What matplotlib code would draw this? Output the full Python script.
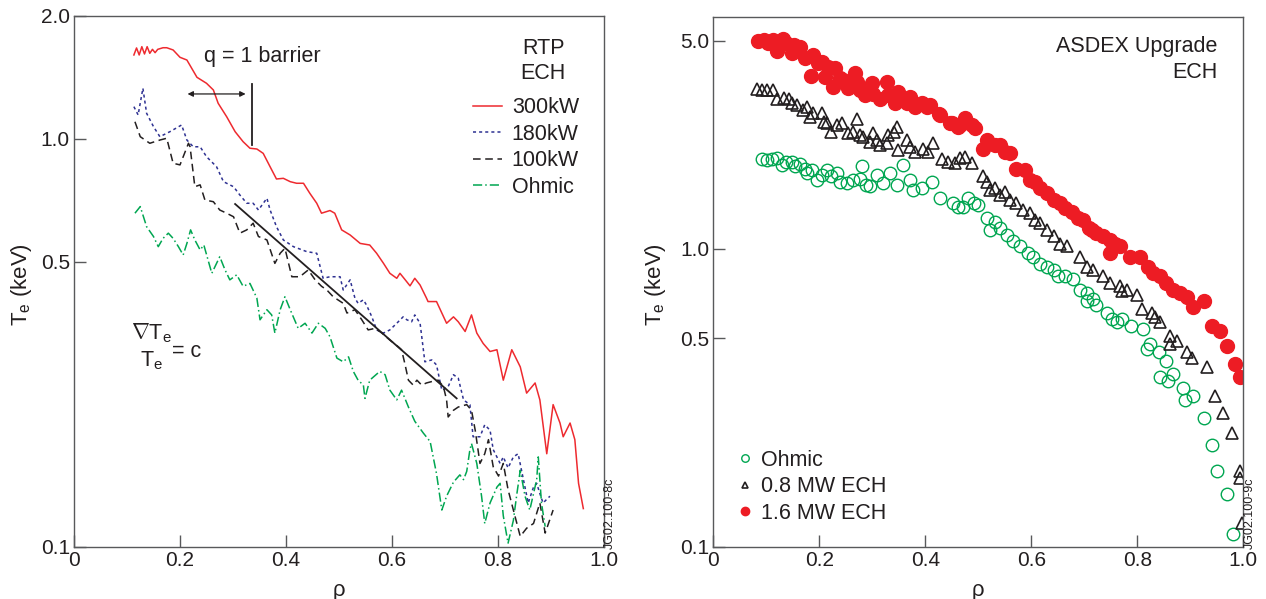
import matplotlib
matplotlib.use("Agg")
import matplotlib.pyplot as plt
import matplotlib.ticker as plticker

plt.rcParams['font.family'] = ['Liberation Sans', 'DejaVu Sans']
plt.rcParams['mathtext.fontset'] = 'custom'
plt.rcParams['mathtext.rm'] = 'Liberation Sans'
plt.rcParams['mathtext.it'] = 'Liberation Sans:italic'

# ---- left panel: RTP ECH profiles (lines) ----
rho_300 = [0.113,0.118,0.123,0.128,0.133,0.138,0.143,0.148,0.153,0.158,0.168,0.175,0.187,0.200,0.213,0.232,0.250,0.263,0.272,0.288,
           0.304,0.319,0.332,0.345,0.357,0.370,0.382,0.395,0.408,0.420,0.433,0.445,0.458,0.467,0.483,0.492,0.505,0.521,0.540,0.558,
           0.571,0.584,0.596,0.609,0.615,0.625,0.634,0.643,0.653,0.665,0.668,0.684,0.703,0.716,0.725,0.738,0.750,0.760,0.772,0.785,
           0.798,0.810,0.826,0.842,0.854,0.870,0.879,0.892,0.904,0.917,0.923,0.936,0.945,0.952,0.961]
te_300 = [1.605,1.670,1.605,1.682,1.614,1.682,1.620,1.657,1.626,1.657,1.672,1.672,1.651,1.584,1.560,1.415,1.368,1.317,1.222,1.133,
          1.041,0.984,0.948,0.944,0.921,0.854,0.797,0.800,0.785,0.778,0.778,0.735,0.695,0.657,0.667,0.657,0.598,0.581,0.554,0.549,
          0.524,0.495,0.468,0.455,0.468,0.451,0.436,0.455,0.438,0.407,0.399,0.399,0.353,0.366,0.356,0.337,0.370,0.334,0.315,0.301,
          0.304,0.256,0.304,0.276,0.238,0.252,0.229,0.169,0.223,0.201,0.186,0.201,0.183,0.143,0.124]

rho_180 = [0.113,0.121,0.130,0.137,0.150,0.162,0.181,0.203,0.213,0.225,0.238,0.250,0.269,0.282,0.301,0.313,0.326,0.338,0.348,0.364,
           0.370,0.382,0.395,0.414,0.439,0.458,0.470,0.483,0.502,0.508,0.521,0.530,0.536,0.546,0.552,0.562,0.571,0.584,0.596,0.609,
           0.621,0.628,0.637,0.643,0.653,0.662,0.675,0.684,0.694,0.706,0.716,0.725,0.735,0.747,0.753,0.766,0.775,0.785,0.791,0.804,
           0.810,0.819,0.829,0.838,0.848,0.857,0.867,0.873,0.879,0.885,0.898]
te_180 = [1.199,1.144,1.330,1.155,1.071,1.012,1.041,1.081,0.993,0.956,0.956,0.904,0.854,0.785,0.763,0.728,0.695,0.695,0.669,0.715,
          0.669,0.609,0.565,0.544,0.529,0.524,0.455,0.459,0.459,0.426,0.451,0.407,0.395,0.403,0.391,0.366,0.340,0.334,0.340,0.353,
          0.366,0.360,0.356,0.370,0.353,0.284,0.287,0.279,0.242,0.247,0.264,0.259,0.229,0.223,0.186,0.186,0.199,0.193,0.173,0.160,
          0.166,0.156,0.166,0.169,0.146,0.128,0.140,0.143,0.135,0.128,0.133]

rho_100 = [0.115,0.125,0.143,0.162,0.175,0.187,0.200,0.216,0.219,0.228,0.238,0.247,0.263,0.275,0.288,0.301,0.313,0.326,0.338,0.348,
           0.364,0.379,0.389,0.398,0.411,0.426,0.442,0.455,0.467,0.477,0.489,0.508,0.515,0.530,0.543,0.555,0.568,0.581,0.596,0.612,
           0.618,0.624,0.631,0.640,0.647,0.656,0.665,0.675,0.687,0.697,0.703,0.706,0.716,0.725,0.741,0.750,0.757,0.766,0.775,0.782,
           0.791,0.801,0.810,0.819,0.829,0.842,0.854,0.867,0.879,0.889,0.904]
te_100 = [1.101,1.012,0.975,0.993,1.003,0.871,0.863,0.975,0.956,0.763,0.771,0.708,0.701,0.669,0.657,0.644,0.587,0.598,0.621,0.576,
          0.565,0.495,0.524,0.539,0.459,0.459,0.477,0.451,0.435,0.426,0.410,0.395,0.374,0.381,0.360,0.340,0.343,0.334,0.321,0.309,
          0.304,0.282,0.256,0.249,0.256,0.249,0.252,0.254,0.256,0.247,0.229,0.208,0.216,0.220,0.223,0.216,0.193,0.160,0.169,0.183,
          0.157,0.149,0.160,0.138,0.123,0.106,0.111,0.114,0.128,0.108,0.123]

rho_oh = [0.115,0.125,0.137,0.150,0.159,0.168,0.178,0.187,0.197,0.206,0.213,0.220,0.228,0.238,0.245,0.260,0.275,0.285,0.294,0.307,
          0.319,0.332,0.345,0.351,0.364,0.373,0.379,0.389,0.398,0.408,0.423,0.436,0.449,0.461,0.474,0.483,0.496,0.508,0.518,0.527,
          0.536,0.546,0.549,0.558,0.577,0.587,0.596,0.609,0.618,0.631,0.643,0.659,0.672,0.684,0.694,0.703,0.716,0.728,0.735,0.741,
          0.747,0.750,0.760,0.769,0.775,0.785,0.798,0.804,0.810,0.819,0.829,0.835,0.842,0.851,0.860,0.873,0.876,0.882,0.889]
te_oh = [0.657,0.682,0.609,0.576,0.544,0.570,0.587,0.570,0.544,0.519,0.554,0.598,0.565,0.534,0.549,0.468,0.514,0.477,0.451,0.464,
         0.435,0.442,0.407,0.360,0.381,0.370,0.334,0.381,0.410,0.381,0.343,0.353,0.334,0.353,0.343,0.327,0.290,0.284,0.292,0.269,
         0.256,0.249,0.231,0.256,0.269,0.264,0.242,0.229,0.242,0.220,0.203,0.190,0.181,0.151,0.123,0.133,0.144,0.150,0.146,0.153,
         0.173,0.179,0.160,0.133,0.114,0.128,0.140,0.143,0.119,0.102,0.116,0.133,0.154,0.133,0.123,0.146,0.166,0.128,0.112]

fit_rho = [0.304, 0.722]
fit_te = [0.692, 0.231]
barrier_rho = 0.335

# ---- right panel: ASDEX Upgrade ECH profiles (points) ----
rho_16 = [0.085,0.096,0.104,0.113,0.121,0.131,0.138,0.148,0.152,0.164,0.173,0.189,0.184,0.198,0.206,0.211,0.217,0.230,0.226,0.239,
          0.245,0.255,0.258,0.267,0.271,0.277,0.286,0.299,0.302,0.315,0.327,0.330,0.343,0.349,0.358,0.365,0.371,0.381,0.393,0.403,
          0.409,0.425,0.428,0.447,0.450,0.462,0.465,0.475,0.488,0.494,0.509,0.516,0.532,0.541,0.550,0.560,0.572,0.588,0.598,0.607,
          0.616,0.629,0.642,0.654,0.664,0.676,0.689,0.698,0.708,0.714,0.723,0.736,0.748,0.748,0.758,0.767,0.786,0.805,0.821,0.830,
          0.843,0.855,0.868,0.881,0.893,0.906,0.925,0.940,0.956,0.969,0.984,0.994]
te_16 = [5.00,5.03,4.92,5.03,4.63,5.05,4.92,4.54,4.84,4.77,4.36,4.48,3.81,4.20,4.25,3.78,4.09,4.04,3.49,3.74,
         3.69,3.46,3.60,3.90,3.64,3.41,3.29,3.60,3.31,3.18,3.64,3.29,3.08,3.37,3.16,3.08,3.23,3.00,3.08,3.00,
         3.04,2.84,2.81,2.64,2.64,2.57,2.60,2.74,2.60,2.54,2.17,2.32,2.23,2.23,2.12,2.09,1.86,1.84,1.70,1.68,
         1.60,1.54,1.46,1.42,1.37,1.33,1.27,1.25,1.17,1.16,1.13,1.10,1.07,0.97,1.04,1.02,0.94,0.94,0.87,0.83,
         0.81,0.77,0.73,0.71,0.69,0.64,0.67,0.55,0.53,0.47,0.41,0.37]

rho_08 = [0.082,0.091,0.101,0.112,0.120,0.133,0.143,0.148,0.157,0.170,0.176,0.182,0.189,0.205,0.208,0.214,0.223,0.233,0.242,0.255,
          0.264,0.271,0.277,0.283,0.296,0.302,0.308,0.315,0.327,0.330,0.340,0.346,0.349,0.365,0.371,0.381,0.396,0.406,0.415,0.431,
          0.443,0.456,0.465,0.475,0.488,0.509,0.516,0.522,0.532,0.541,0.550,0.560,0.572,0.585,0.598,0.607,0.616,0.629,0.642,0.654,
          0.667,0.692,0.705,0.717,0.736,0.748,0.767,0.771,0.780,0.799,0.808,0.827,0.833,0.843,0.862,0.862,0.874,0.893,0.903,0.931,
          0.947,0.962,0.978,0.994,0.994,0.997]
te_08 = [3.43,3.41,3.40,3.40,3.18,3.20,3.18,3.08,3.04,2.93,3.00,2.78,2.85,2.85,2.67,2.64,2.47,2.60,2.64,2.44,
         2.47,2.72,2.41,2.38,2.29,2.44,2.32,2.23,2.26,2.41,2.47,2.57,2.15,2.32,2.20,2.12,2.17,2.12,2.26,2.00,
         1.96,1.94,2.01,2.04,1.94,1.75,1.68,1.58,1.60,1.52,1.55,1.46,1.42,1.35,1.32,1.25,1.22,1.16,1.10,1.04,
         1.02,0.94,0.87,0.85,0.81,0.77,0.75,0.72,0.73,0.70,0.63,0.61,0.59,0.57,0.51,0.48,0.49,0.45,0.43,0.40,
         0.32,0.28,0.24,0.18,0.17,0.12]

rho_ohm = [0.091,0.101,0.110,0.120,0.129,0.138,0.148,0.154,0.164,0.173,0.176,0.186,0.195,0.205,0.214,0.223,0.233,0.239,0.252,0.264,
           0.277,0.280,0.289,0.296,0.308,0.321,0.333,0.346,0.358,0.371,0.377,0.393,0.412,0.428,0.453,0.462,0.472,0.481,0.491,0.500,
           0.516,0.522,0.532,0.541,0.554,0.566,0.579,0.594,0.604,0.616,0.629,0.642,0.651,0.664,0.679,0.692,0.705,0.717,0.705,0.723,
           0.742,0.752,0.761,0.771,0.789,0.811,0.818,0.824,0.840,0.855,0.843,0.858,0.868,0.887,0.890,0.906,0.925,0.940,0.950,0.969,
           0.981]
te_ohm = [2.00,1.99,2.00,2.01,1.91,1.96,1.95,1.90,1.93,1.86,1.79,1.84,1.70,1.77,1.84,1.75,1.79,1.68,1.66,1.70,
          1.72,1.89,1.64,1.62,1.77,1.66,1.79,1.64,1.91,1.70,1.58,1.60,1.68,1.48,1.42,1.38,1.38,1.48,1.42,1.40,
          1.27,1.16,1.23,1.17,1.11,1.06,1.02,0.97,0.94,0.89,0.87,0.85,0.81,0.81,0.79,0.73,0.71,0.68,0.67,0.65,
          0.61,0.58,0.57,0.58,0.55,0.54,0.46,0.48,0.45,0.42,0.37,0.36,0.38,0.34,0.31,0.32,0.27,0.22,0.18,0.15,
          0.11]

x_ticks = [0, 0.2, 0.4, 0.6, 0.8, 1.0]
x_labels = ['0', '0.2', '0.4', '0.6', '0.8', '1.0']
left_yticks = [0.1, 0.5, 1.0, 2.0]
right_yticks = [0.1, 0.5, 1.0, 5.0]

RED = '#ee2a2f'
BLUE = '#2e3192'
DARK = '#231f20'
GREEN = '#00a651'
SPINE = '#58595b'
FS = 15.5

fig = plt.figure(figsize=(12.66, 5.99), dpi=100)
ax1 = fig.add_axes([0.05845, 0.08731, 0.41864, 0.88598])
ax2 = fig.add_axes([0.56343, 0.08731, 0.41864, 0.88431])


def style_axis(ax, yticks):
	ax.set_yscale('log')
	ax.set_xlim(0, 1.0)
	ax.set_xticks(x_ticks)
	ax.set_xticklabels(x_labels)
	ax.set_yticks(yticks)
	ax.set_yticklabels(['%.1f' % v for v in yticks])
	ax.yaxis.set_minor_locator(plticker.NullLocator())
	ax.tick_params(direction='in', length=8.5, width=1.0, color=SPINE, labelsize=15,
				   labelcolor=DARK, pad=3)
	for sp in ax.spines.values():
		sp.set_color(SPINE)
		sp.set_linewidth(1.0)
	ax.set_xlabel('ρ', fontsize=16, color=DARK)
	ax.xaxis.set_label_coords(0.5, -0.062)
	ax.set_ylabel('T$_\\mathrm{e}$ (keV)', fontsize=16, color=DARK)


# left panel
style_axis(ax1, left_yticks)
ax1.set_ylim(0.1, 2.0)
ax1.yaxis.set_label_coords(-0.075, 0.495)
l1, = ax1.plot(rho_300, te_300, color=RED, lw=1.1, label='300kW')
l2, = ax1.plot(rho_180, te_180, color=BLUE, lw=1.1, dashes=(2, 2), label='180kW')
l3, = ax1.plot(rho_100, te_100, color=DARK, lw=1.1, dashes=(5, 3), label='100kW')
l4, = ax1.plot(rho_oh, te_oh, color=GREEN, lw=1.1, dashes=(6, 2, 1, 2), label='Ohmic')
ax1.plot(fit_rho, fit_te, color=DARK, lw=1.3)
ax1.plot([barrier_rho, barrier_rho], [0.966, 1.362], color=DARK, lw=1.3)
ax1.annotate('', xy=(0.209, 1.288), xytext=(0.329, 1.288),
			 arrowprops=dict(arrowstyle='<|-|>', color=DARK, lw=0.9, mutation_scale=8))
ax1.text(0.245, 0.923, 'q = 1 barrier', transform=ax1.transAxes, fontsize=FS,
		 color=DARK, va='center', ha='left')
ax1.text(0.885, 0.915, 'RTP\nECH', transform=ax1.transAxes, fontsize=FS,
		 color=DARK, va='center', ha='center', linespacing=1.22)
ax1.legend(handles=[l1, l2, l3, l4], loc='upper left', bbox_to_anchor=(0.753, 0.847),
		   frameon=False, fontsize=FS, handlelength=1.35, handletextpad=0.45,
		   labelspacing=0.26, borderpad=0, borderaxespad=0, labelcolor=DARK)
ax1.text(0.108, 0.403, '$\\nabla$T$_\\mathrm{e}$', transform=ax1.transAxes, fontsize=FS,
		 color=DARK, va='center', ha='left')
ax1.text(0.125, 0.351, 'T$_\\mathrm{e}$', transform=ax1.transAxes, fontsize=FS,
		 color=DARK, va='center', ha='left')
ax1.text(0.185, 0.368, '= c', transform=ax1.transAxes, fontsize=FS,
		 color=DARK, va='center', ha='left')

# right panel
style_axis(ax2, right_yticks)
ax2.set_ylim(0.1, 6.0)
ax2.yaxis.set_label_coords(-0.085, 0.495)
p1, = ax2.plot(rho_ohm, te_ohm, ls='none', marker='o', ms=9, mfc='none', mec=GREEN, mew=1.0, label='Ohmic')
p2, = ax2.plot(rho_08, te_08, ls='none', marker='^', ms=8, mfc='none', mec=DARK, mew=1.2, label='0.8 MW ECH')
p3, = ax2.plot(rho_16, te_16, ls='none', marker='o', ms=10, color='#ed1c24', label='1.6 MW ECH')
ax2.text(0.951, 0.920, 'ASDEX Upgrade\nECH', transform=ax2.transAxes, fontsize=FS,
		 color=DARK, va='center', ha='right', multialignment='right', linespacing=1.27)
ax2.legend(handles=[p1, p2, p3], loc='upper left', bbox_to_anchor=(0.045, 0.183),
		   frameon=False, fontsize=FS, handlelength=0.7, handletextpad=0.4,
		   labelspacing=0.26, borderpad=0, borderaxespad=0, markerscale=0.6, labelcolor=DARK)

fig.text(610 / 1266, 1 - 513 / 599, 'JG02.100-8c', rotation=90, fontsize=9,
		 color=DARK, ha='center', va='center')
fig.text(1250 / 1266, 1 - 513 / 599, 'JG02.100-9c', rotation=90, fontsize=9,
		 color=DARK, ha='center', va='center')

fig.savefig('out.png', dpi=100)
